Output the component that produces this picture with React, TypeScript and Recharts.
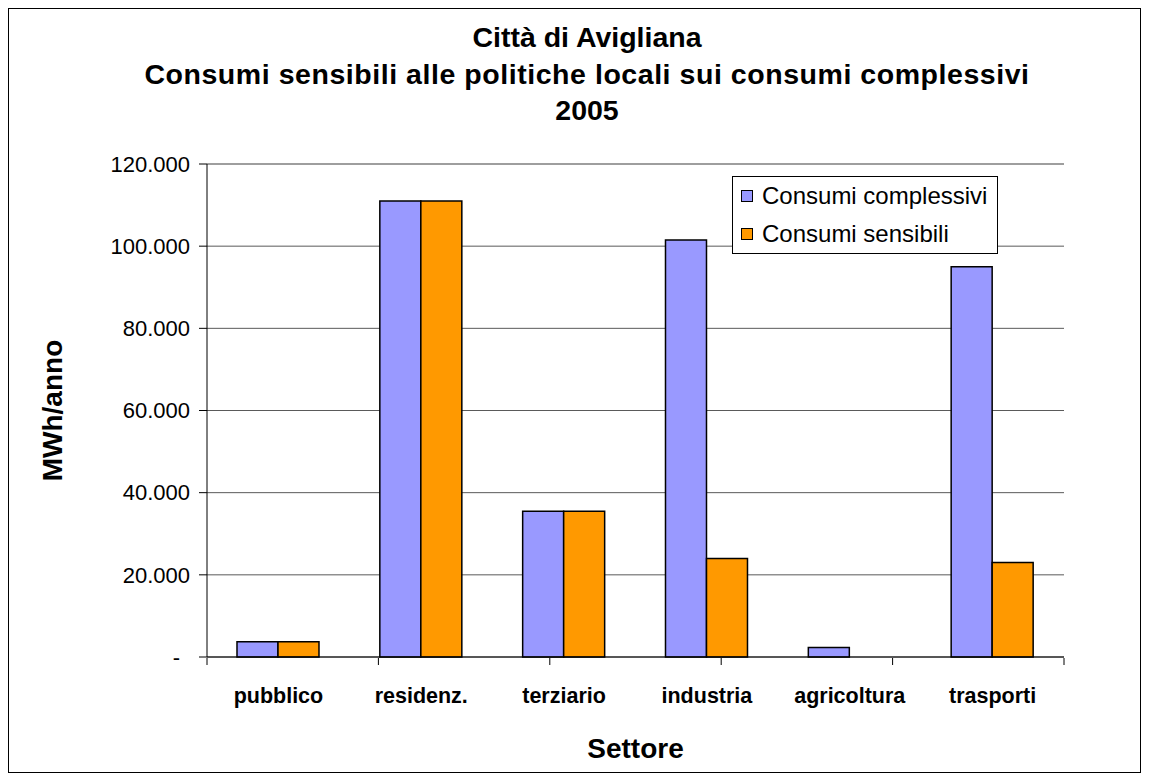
import React from "react";
import {
  BarChart,
  Bar,
  XAxis,
  YAxis,
  CartesianGrid,
  Legend,
  ReferenceLine
} from "recharts";

const categories = ["pubblico", "residenz.", "terziario", "industria", "agricoltura", "trasporti"];
const consumiComplessivi = [3700, 111000, 35500, 101500, 2300, 95000];
const consumiSensibili = [3700, 111000, 35500, 24000, 0, 23000];
const yTicks = [0, 20000, 40000, 60000, 80000, 100000, 120000];
const edgeTicks = [0, 1, 2, 3, 4, 5, 6];

const titleLines = [
  "Città di Avigliana",
  "Consumi sensibili alle politiche locali sui consumi complessivi",
  "2005"
];

const FONT = "'Liberation Sans', Arial, sans-serif";
const BLUE = "#9999FF";
const ORANGE = "#FF9900";

const data = categories.map((c, i) => ({
  settore: c,
  complessivi: consumiComplessivi[i],
  sensibili: consumiSensibili[i]
}));

function fmt(v: number) {
  if (v === 0) return "-";
  return v.toString().replace(/\B(?=(\d{3})+(?!\d))/g, ".");
}

function YTick(props: any) {
  const { x, y, payload } = props;
  return (
    <text
      x={x}
      y={y}
      dx={payload.value === 0 ? -10 : 0}
      dy="0.355em"
      textAnchor="end"
      fontFamily={FONT}
      fontSize={22}
      fill="#000"
    >
      {fmt(payload.value)}
    </text>
  );
}

function XTick(props: any) {
  const { x, y, payload } = props;
  return (
    <text
      x={x}
      y={y}
      dy="0.71em"
      textAnchor="middle"
      fontFamily={FONT}
      fontSize={21.5}
      fontWeight="bold"
      fill="#000"
    >
      {payload.value}
    </text>
  );
}

// empty tick: only the tick line is wanted on the category boundaries
function NoLabel() {
  return <g />;
}

function LegendBox() {
  const items = [
    { name: "Consumi complessivi", color: BLUE },
    { name: "Consumi sensibili", color: ORANGE }
  ];
  return (
    <div
      style={{
        border: "1px solid #000",
        width: 266,
        height: 78,
        boxSizing: "border-box",
        background: "#fff",
        fontFamily: FONT
      }}
    >
      {items.map((it) => (
        <div
          key={it.name}
          style={{ display: "flex", alignItems: "center", height: 38, paddingLeft: 8 }}
        >
          <span
            style={{
              width: 12,
              height: 12,
              border: "1px solid #000",
              background: it.color,
              marginRight: 9,
              boxSizing: "border-box",
              display: "inline-block"
            }}
          />
          <span style={{ fontSize: 24, color: "#000" }}>{it.name}</span>
        </div>
      ))}
    </div>
  );
}

function App() {
  return (
    <div
      style={{
        position: "relative",
        width: 1133,
        height: 765,
        border: "1px solid #000",
        boxSizing: "border-box",
        background: "#fff"
      }}
    >
      <div
        style={{
          position: "absolute",
          left: 78,
          top: 10,
          width: 1000,
          textAlign: "center",
          fontFamily: FONT,
          fontWeight: "bold",
          fontSize: 28.5,
          lineHeight: "36.5px",
          color: "#000",
          zIndex: 2
        }}
      >
        {titleLines.map((t, i) => (
          <div key={i} style={{ letterSpacing: i === 1 ? 0.55 : 0 }}>
            {t}
          </div>
        ))}
      </div>

      <BarChart
        width={1131}
        height={763}
        data={data}
        margin={{ top: 155, right: 76, left: 0, bottom: 113 }}
        barCategoryGap="21%"
        barGap={0}
      >
        <CartesianGrid vertical={false} stroke="#5a5a5a" />
        <XAxis
          dataKey="settore"
          height={1}
          tickLine={false}
          axisLine={{ stroke: "#000" }}
          tickMargin={25}
          tick={<XTick />}
          interval={0}
          label={{
            content: (p: any) => {
              const vb = p.viewBox;
              return (
                <text
                  x={vb.x + vb.width / 2}
                  y={vb.y + 101}
                  textAnchor="middle"
                  fontFamily={FONT}
                  fontSize={28}
                  fontWeight="bold"
                  fill="#000"
                >
                  Settore
                </text>
              );
            }
          }}
        />
        <XAxis
          xAxisId="edges"
          type="number"
          domain={[0, 6]}
          ticks={edgeTicks}
          interval={0}
          height={1}
          axisLine={false}
          tick={<NoLabel />}
          tickSize={7}
          tickLine={{ stroke: "#000" }}
        />
        <YAxis
          width={198}
          domain={[0, 120000]}
          ticks={yTicks}
          interval={0}
          tickSize={8}
          tickMargin={9}
          tick={<YTick />}
          axisLine={{ stroke: "#000" }}
          tickLine={{ stroke: "#000" }}
          label={{
            content: (p: any) => {
              const vb = p.viewBox;
              const x = vb.x + 53;
              const y = vb.y + vb.height / 2;
              return (
                <text
                  x={x}
                  y={y}
                  textAnchor="middle"
                  transform={`rotate(-90, ${x}, ${y})`}
                  fontFamily={FONT}
                  fontSize={28}
                  fontWeight="bold"
                  fill="#000"
                >
                  MWh/anno
                </text>
              );
            }
          }}
        />
        <ReferenceLine y={120000} stroke="#9a9a9a" strokeWidth={1.5} />
        <ReferenceLine x={6} xAxisId="edges" stroke="#9a9a9a" strokeWidth={1.5} />
        <Legend
          layout="vertical"
          align="center"
          verticalAlign="middle"
          content={<LegendBox />}
          wrapperStyle={{ left: 723, top: 167, width: 266, bottom: "auto", right: "auto" }}
        />
        <Bar
          dataKey="complessivi"
          name="Consumi complessivi"
          fill={BLUE}
          stroke="#000"
          strokeWidth={1.5}
          isAnimationActive={false}
        />
        <Bar
          dataKey="sensibili"
          name="Consumi sensibili"
          fill={ORANGE}
          stroke="#000"
          strokeWidth={1.5}
          isAnimationActive={false}
        />
      </BarChart>
    </div>
  );
}

export default App;
